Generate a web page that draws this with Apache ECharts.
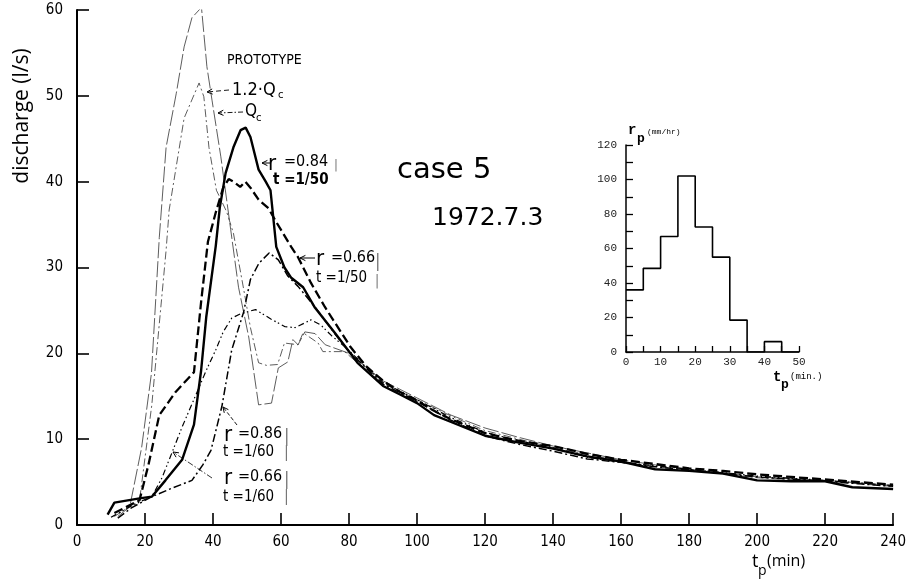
<!DOCTYPE html>
<html><head><meta charset="utf-8">
<script src="https://cdn.jsdelivr.net/npm/echarts@6/dist/echarts.min.js"></script>
<style>html,body{margin:0;padding:0;background:#fff}#c{width:909px;height:580px}</style>
</head><body><div id="c"></div><script>
// ---- main chart data: [t_p (min), discharge (l/s)] ----
const r084_t50 = [[9,1.2],[11,2.6],[18.4,3.1],[22,3.3],[26,5.2],[30.9,7.6],[34.4,11.7],[36.5,18],[38,24.2],[40.8,32.5],[42,37],[43.7,41],[46,44],[48.1,46],[49.6,46.3],[51,45.2],[53.4,41.4],[55.5,40],[56.9,39],[58.6,32.4],[61,30],[63,28.8],[66.5,27.7],[70,25.3],[75.8,22.4],[82.5,18.9],[90,16.2],[95,15.2],[100,14.2],[105,12.8],[110,12.0],[120,10.4],[130,9.6],[140,8.9],[150,8.0],[160,7.4],[170,6.5],[180,6.3],[190,6.0],[200,5.2],[210,5.1],[220,5.1],[228,4.4],[240,4.2]];
const r066_t50 = [[11,1.4],[14,2.0],[18.4,2.9],[21,7],[24.2,12.8],[29,15.5],[34.4,17.8],[36.5,26],[38.5,33],[40.8,36.4],[43,39.3],[44.6,40.3],[46,40],[48,39.4],[49.5,40],[51,39.3],[53.4,37.9],[56.3,36.9],[58.3,35.5],[63,32.4],[65,31.2],[68.8,28.2],[72.9,25.4],[80.5,20.7],[85,18.5],[90,16.8],[95,15.5],[100,14.5],[105,13.3],[110,12.3],[120,10.7],[130,9.8],[140,9.2],[150,8.3],[160,7.6],[170,7.1],[180,6.6],[190,6.3],[200,5.9],[210,5.6],[220,5.3],[230,5.0],[240,4.7]];
const r086_t60 = [[12,0.8],[16,2.0],[22,3.3],[28,4.3],[33.8,5.2],[37,7],[39.4,8.7],[42.6,13.8],[45.5,20.4],[49,24.8],[51,28.6],[53.5,30.5],[56.5,31.7],[59.2,30.9],[62,29],[65,27.8],[70,25.4],[76,22.2],[80,20.2],[90,16.4],[100,14.4],[110,12.2],[120,10.4],[130,9.4],[140,8.6],[150,7.7],[160,7.3],[170,6.8],[180,6.4],[190,6.0],[200,5.6],[220,5.1],[240,4.5]];
const r066_t60 = [[10,0.9],[15,2.0],[19,2.8],[22,3.3],[25,5.5],[28,8.5],[31,11.5],[35,15.2],[38,18],[40.8,20.4],[43,22.5],[45.5,24.1],[48,24.6],[52.5,25.1],[57,24],[61.2,23.1],[64.2,23],[68.8,23.9],[71.7,23.3],[75,22],[78.7,20.8],[85,18.4],[90,16.6],[100,14.6],[110,12.5],[120,10.8],[130,9.8],[140,9.0],[150,7.9],[160,7.3],[170,6.9],[180,6.5],[190,6.1],[200,5.7],[220,5.2],[240,4.6]];
const q12c = [[12,1.0],[15.5,2.1],[19,9],[21.9,17.7],[24.2,33.5],[26.2,44],[29.2,50.3],[31.5,55.7],[33.8,59.1],[36.6,60.3],[38.2,53.4],[39.7,49.5],[42.3,42.9],[45.2,34.4],[47.5,27.7],[50.5,21.9],[53.4,14],[57.2,14.2],[59.2,18.3],[62,19],[63.5,21.6],[65,21],[67,22.5],[70,22.3],[73,21],[80,20],[90,16.8],[100,14.8],[110,12.8],[120,11.3],[130,10.2],[140,9.2],[150,8.4],[160,7.6],[170,7.0],[180,6.5],[190,6.1],[200,5.6],[220,5.2],[240,4.6]];
const qc = [[11,1.0],[18.4,2.9],[22,14],[26.2,32],[27.1,36.7],[31.5,47.4],[35.9,51.5],[37.3,49.9],[38.8,44],[41,39],[44,36.5],[46,34],[49,27.5],[51,23],[53.4,18.9],[55.7,18.6],[59,18.7],[61,21.2],[65,21],[66.5,22.4],[70.9,21.2],[72.3,20.2],[78.7,20.2],[85,18],[90,16.5],[100,14.6],[110,12.7],[120,11.0],[130,10.0],[140,9.0],[150,8.2],[160,7.4],[170,6.8],[180,6.4],[200,5.5],[220,5.1],[240,4.5]];

// ---- inset hyetograph: r_p (mm/hr) per 5-minute block ----
const rainStart = [0,5,10,15,20,25,30,35,40,45];
const rainValue = [36,48.5,67,102,72.5,55,18.5,0,6,0];
const rainEnd = 50;

const cond = "'DejaVu Sans Condensed','Liberation Sans Narrow','DejaVu Sans',sans-serif";
const mono = "'Liberation Mono','DejaVu Sans Mono',monospace";
const round = "'Open Sans','DejaVu Sans',sans-serif";
const wide = "'DejaVu Sans',sans-serif";

const rainData = rainStart.map((s,i)=>[s, rainValue[i]]).concat([[rainEnd, 0]]);

function ln(data, width, type, color){
  return {type:'line', data, xAxisIndex:0, yAxisIndex:0, showSymbol:false, symbol:'none',
    lineStyle:{color:color||'#000', width, type}, silent:true, z:3};
}

const chart = echarts.init(document.getElementById('c'));

// graphic helpers
const G = [];
function txt(t, x, y, size, opts){
  opts = opts||{};
  G.push({type:'text', x, y, rotation: opts.rot||0, silent:true,
    style:{text:t, font:(opts.weight||'normal')+' '+size+'px '+(opts.family||cond), fill:opts.fill||'#000',
      align:opts.align||'left', verticalAlign:opts.va||'middle'}});
}
function seg(pts, w, dash, color){
  G.push({type:'polyline', silent:true, shape:{points:pts},
    style:{stroke:color||'#000', lineWidth:w, lineDash:dash||null, fill:null}});
}
function arrow(x1,y1,x2,y2,w,dash){
  seg([[x1,y1],[x2,y2]], w, dash);
  const a = Math.atan2(y2-y1, x2-x1), L=6;
  seg([[x2-L*Math.cos(a-0.45), y2-L*Math.sin(a-0.45)],[x2,y2],[x2-L*Math.cos(a+0.45), y2-L*Math.sin(a+0.45)]], 1);
}

// y-axis title and x-axis title
txt('discharge (l/s)', 22, 116, 21, {family:round, rot:Math.PI/2, align:'center'});
txt('t', 752, 562, 18, {family:round});
txt('p', 758, 571, 14, {family:round});
txt('(min)', 767, 561, 16, {family:round});

// case text
txt('case 5', 397, 170, 29, {family:wide});
txt('1972.7.3', 432, 218, 25, {family:wide});

// prototype labels
txt('PROTOTYPE', 227, 60, 14);
txt('1.2·Q', 232, 90, 18);
txt('c', 278, 95, 11);
arrow(229, 90, 207, 92, 0.9, [5,3]);
txt('Q', 245, 112, 17);
txt('c', 256, 118, 11);
arrow(243, 112, 218, 113, 0.9, [5,2,1.5,2]);

// r=0.84 t=1/50
txt('r', 268, 164, 22);
txt('=0.84', 284, 162, 16);
txt('t =1/50', 273, 180, 15, {weight:'bold'});
arrow(271, 163, 262, 163, 1);
txt('|', 334, 166, 13, {fill:'#777'});
// r=0.66 t=1/50
txt('r', 316, 259, 22);
txt('=0.66', 331, 258, 16);
txt('t =1/50', 316, 278, 15);
arrow(315, 258, 300, 258, 1);
txt('|', 375, 262, 18, {fill:'#777'});
txt('|', 375, 281, 14, {fill:'#777'});
// r=0.86 t=1/60
txt('r', 224, 435, 22);
txt('=0.86', 238, 434, 16);
txt('t =1/60', 223, 452, 15);
arrow(237, 425, 223, 407, 0.9, [4,2]);
txt('|', 284, 437, 18, {fill:'#777'});
txt('|', 284, 453, 16, {fill:'#777'});
// r=0.66 t=1/60
txt('r', 224, 478, 22);
txt('=0.66', 238, 477, 16);
txt('t =1/60', 223, 497, 15);
arrow(212, 478, 173, 452, 0.8, [6,2,1.5,2]);
txt('|', 284, 480, 18, {fill:'#777'});
txt('|', 284, 497, 16, {fill:'#777'});

// inset labels
txt('r', 628, 130, 14, {family:mono, weight:'bold'});
txt('p', 637, 139, 13, {family:mono, weight:'bold'});
txt('(mm/hr)', 647, 132, 8, {family:mono});
txt('t', 773, 377, 14, {family:mono, weight:'bold'});
txt('p', 781, 385, 13, {family:mono, weight:'bold'});
txt('(min.)', 790, 377, 9, {family:mono});

const option = {
  animation:false,
  backgroundColor:'#fff',
  grid:[
    {left:77, right:9, top:10, bottom:55},
    {left:626, top:145, width:173, height:207}
  ],
  xAxis:[
    {type:'value', gridIndex:0, min:0, max:240, interval:20,
     axisLine:{lineStyle:{color:'#000', width:2}},
     axisTick:{inside:true, length:12, lineStyle:{color:'#000', width:1.6}},
     axisLabel:{color:'#000', fontSize:15, fontFamily:cond, margin:10},
     splitLine:{show:false}},
    {type:'value', gridIndex:1, min:0, max:50, interval:5,
     axisLine:{lineStyle:{color:'#000', width:1.5}},
     axisTick:{inside:true, length:6, lineStyle:{color:'#000', width:1.3}},
     axisLabel:{color:'#222', fontSize:11, fontFamily:mono, margin:5, formatter:v=> v%10===0 ? String(v) : ''},
     splitLine:{show:false}}
  ],
  yAxis:[
    {type:'value', gridIndex:0, min:0, max:60, interval:10,
     axisLine:{show:true, lineStyle:{color:'#000', width:2}},
     axisTick:{show:true, inside:true, length:12, lineStyle:{color:'#000', width:1.6}},
     axisLabel:{color:'#000', fontSize:15, fontFamily:cond, margin:14},
     splitLine:{show:false}},
    {type:'value', gridIndex:1, min:0, max:120, interval:10,
     axisLine:{show:true, lineStyle:{color:'#000', width:1.5}},
     axisTick:{show:true, inside:true, length:7, lineStyle:{color:'#000', width:1.3}},
     axisLabel:{color:'#222', fontSize:11, fontFamily:mono, margin:9, formatter:v=> v%20===0 ? String(v) : ''},
     splitLine:{show:false}}
  ],
  series:[
    ln(q12c, 0.8, [16,3], '#333'),
    ln(qc, 0.8, [8,3,2,3], '#333'),
    ln(r066_t60, 1.2, [6,3,1.5,2.5,1.5,3]),
    ln(r086_t60, 1.5, [8,3,2,3]),
    ln(r066_t50, 2.3, [9,4]),
    ln(r084_t50, 2.4, 'solid'),
    {type:'line', xAxisIndex:1, yAxisIndex:1, data:rainData, step:'end', showSymbol:false, symbol:'none',
     lineStyle:{color:'#000', width:1.6}, silent:true}
  ],
  graphic:G
};
chart.setOption(option);
</script></body></html>
